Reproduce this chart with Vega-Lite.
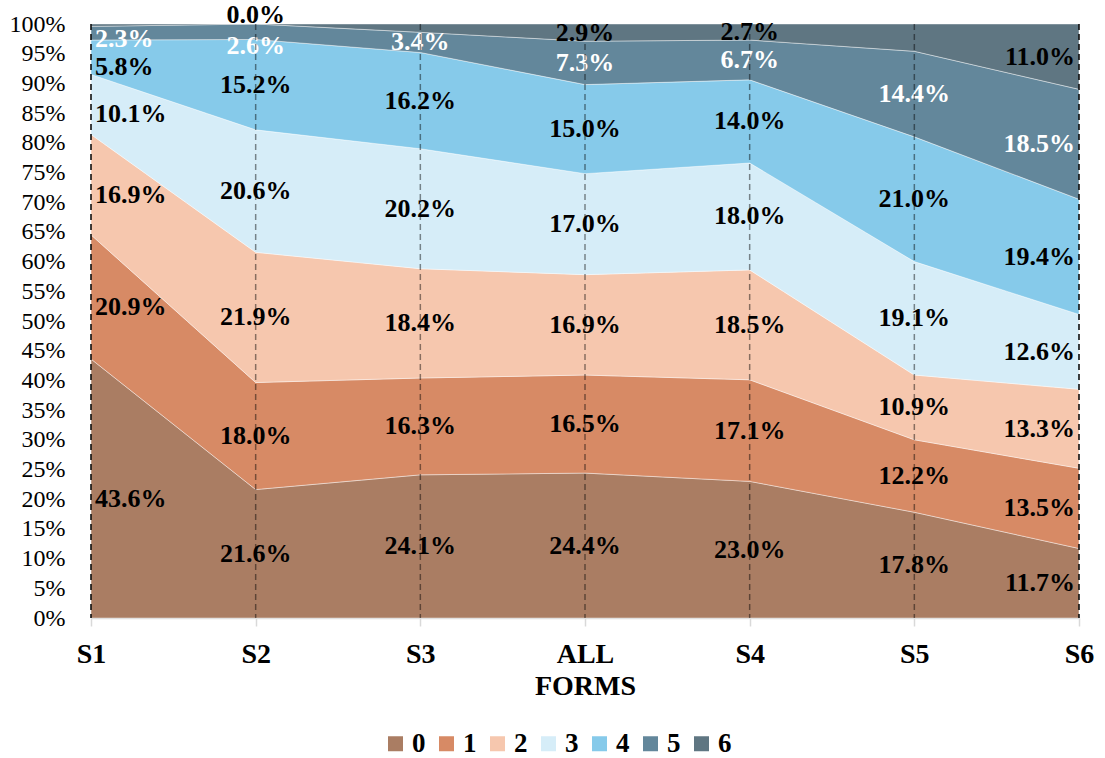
{
  "$schema": "https://vega.github.io/schema/vega-lite/v6.json",
  "width": 988,
  "height": 594,
  "autosize": "none",
  "padding": {"left": 91, "top": 24, "right": 26, "bottom": 140},
  "background": "white",
  "config": {
    "view": {"stroke": null},
    "font": "'Liberation Serif', 'Times New Roman', Times, serif",
    "legend": {"padding": 0},
    "axisY": {"labelOverlap": false, "tickCount": 30, "labelFontSize": 24, "labelColor": "black", "labelPadding": 26, "ticks": false, "domain": false, "gridColor": "#d9d9d9", "labelSeparation": 0}
  },
  "data": {
    "values": [
      {"form": "S1", "series": "0", "value": 43.6},
      {"form": "S1", "series": "1", "value": 20.9},
      {"form": "S1", "series": "2", "value": 16.9},
      {"form": "S1", "series": "3", "value": 10.1},
      {"form": "S1", "series": "4", "value": 5.8},
      {"form": "S1", "series": "5", "value": 2.3},
      {"form": "S1", "series": "6", "value": 0.4},
      {"form": "S2", "series": "0", "value": 21.6},
      {"form": "S2", "series": "1", "value": 18.0},
      {"form": "S2", "series": "2", "value": 21.9},
      {"form": "S2", "series": "3", "value": 20.6},
      {"form": "S2", "series": "4", "value": 15.2},
      {"form": "S2", "series": "5", "value": 2.6},
      {"form": "S2", "series": "6", "value": 0.0},
      {"form": "S3", "series": "0", "value": 24.1},
      {"form": "S3", "series": "1", "value": 16.3},
      {"form": "S3", "series": "2", "value": 18.4},
      {"form": "S3", "series": "3", "value": 20.2},
      {"form": "S3", "series": "4", "value": 16.2},
      {"form": "S3", "series": "5", "value": 3.4},
      {"form": "S3", "series": "6", "value": 1.4},
      {"form": "ALL", "series": "0", "value": 24.4},
      {"form": "ALL", "series": "1", "value": 16.5},
      {"form": "ALL", "series": "2", "value": 16.9},
      {"form": "ALL", "series": "3", "value": 17.0},
      {"form": "ALL", "series": "4", "value": 15.0},
      {"form": "ALL", "series": "5", "value": 7.3},
      {"form": "ALL", "series": "6", "value": 2.9},
      {"form": "S4", "series": "0", "value": 23.0},
      {"form": "S4", "series": "1", "value": 17.1},
      {"form": "S4", "series": "2", "value": 18.5},
      {"form": "S4", "series": "3", "value": 18.0},
      {"form": "S4", "series": "4", "value": 14.0},
      {"form": "S4", "series": "5", "value": 6.7},
      {"form": "S4", "series": "6", "value": 2.7},
      {"form": "S5", "series": "0", "value": 17.8},
      {"form": "S5", "series": "1", "value": 12.2},
      {"form": "S5", "series": "2", "value": 10.9},
      {"form": "S5", "series": "3", "value": 19.1},
      {"form": "S5", "series": "4", "value": 21.0},
      {"form": "S5", "series": "5", "value": 14.4},
      {"form": "S5", "series": "6", "value": 4.6},
      {"form": "S6", "series": "0", "value": 11.7},
      {"form": "S6", "series": "1", "value": 13.5},
      {"form": "S6", "series": "2", "value": 13.3},
      {"form": "S6", "series": "3", "value": 12.6},
      {"form": "S6", "series": "4", "value": 19.4},
      {"form": "S6", "series": "5", "value": 18.5},
      {"form": "S6", "series": "6", "value": 11.0}
    ]
  },
  "transform": [
    {"stack": "value", "groupby": ["form"], "sort": [{"field": "series", "order": "ascending"}], "offset": "normalize", "as": ["y0", "y1"]},
    {"calculate": "(datum.y0 + datum.y1) / 2", "as": "ymid"},
    {"calculate": "format(datum.value, '.1f') + '%'", "as": "label"}
  ],
  "encoding": {
    "x": {
      "field": "form",
      "type": "ordinal",
      "sort": ["S1", "S2", "S3", "ALL", "S4", "S5", "S6"],
      "scale": {"type": "point", "padding": 0},
      "axis": {
        "title": "FORMS",
        "labelAngle": 0,
        "labelFontSize": 28,
        "labelFontWeight": "bold",
        "labelColor": "black",
        "labelPadding": 14,
        "titleFontSize": 28,
        "titleFontWeight": "bold",
        "titleColor": "black",
        "titlePadding": 4,
        "domainColor": "#d9d9d9",
        "domainWidth": 1.5,
        "tickColor": "#d9d9d9",
        "tickWidth": 1.5,
        "tickSize": 8,
        "grid": false
      }
    }
  },
  "layer": [
    {
      "mark": {"type": "area", "stroke": "white", "strokeWidth": 0.6, "strokeOpacity": 0.7},
      "encoding": {
        "y": {
          "field": "y1",
          "type": "quantitative",
          "scale": {"domain": [0, 1], "nice": false},
          "axis": {
            "title": null,
            "format": ".0%",
            "values": [0, 0.05, 0.1, 0.15, 0.2, 0.25, 0.3, 0.35, 0.4, 0.45, 0.5, 0.55, 0.6, 0.65, 0.7, 0.75, 0.8, 0.85, 0.9, 0.95, 1],
            "tickCount": 30,
            "labelOverlap": false,
            "grid": true
          }
        },
        "y2": {"field": "y0"},
        "color": {
          "field": "series",
          "type": "nominal",
          "scale": {
            "domain": ["0", "1", "2", "3", "4", "5", "6"],
            "range": ["#aa7d63", "#d78a65", "#f6c7ae", "#d6edf8", "#86caea", "#63879b", "#5f7682"]
          },
          "legend": {
            "title": null,
            "orient": "none",
            "direction": "horizontal",
            "columns": 7,
            "legendX": 291,
            "legendY": 706,
            "symbolType": "square",
            "symbolSize": 225,
            "symbolStrokeWidth": 0,
            "labelFontSize": 27,
            "labelFontWeight": "bold",
            "labelColor": "black",
            "labelOffset": 3,
            "columnPadding": 7
          }
        }
      }
    },
    {
      "transform": [
        {"filter": "datum.form == 'S1' && datum.series != '6' && datum.series != '5'"}
      ],
      "mark": {"type": "text", "align": "left", "baseline": "middle", "dx": 4, "dy": 10, "fontSize": 26, "fontWeight": "bold", "color": "black"},
      "encoding": {
        "y": {"field": "ymid", "type": "quantitative", "axis": {"title": null, "format": ".0%", "values": [0, 0.05, 0.1, 0.15, 0.2, 0.25, 0.3, 0.35, 0.4, 0.45, 0.5, 0.55, 0.6, 0.65, 0.7, 0.75, 0.8, 0.85, 0.9, 0.95, 1], "tickCount": 30, "labelOverlap": false, "grid": true}},
        "text": {"field": "label"}
      }
    },
    {
      "transform": [
        {"filter": "datum.form == 'S1' && datum.series == '5'"}
      ],
      "mark": {"type": "text", "align": "left", "baseline": "middle", "dx": 4, "dy": 6, "fontSize": 26, "fontWeight": "bold", "color": "white"},
      "encoding": {
        "y": {"field": "ymid", "type": "quantitative", "axis": {"title": null, "format": ".0%", "values": [0, 0.05, 0.1, 0.15, 0.2, 0.25, 0.3, 0.35, 0.4, 0.45, 0.5, 0.55, 0.6, 0.65, 0.7, 0.75, 0.8, 0.85, 0.9, 0.95, 1], "tickCount": 30, "labelOverlap": false, "grid": true}},
        "text": {"field": "label"}
      }
    },
    {
      "transform": [
        {"filter": "!(datum.series == '6' && (datum.form == 'S3' || datum.form == 'S5'))"},
        {"filter": "datum.form != 'S1' && datum.form != 'S6'"},
        {"filter": "!(datum.form == 'S2' && (datum.series == '5' || datum.series == '6'))"}
      ],
      "mark": {"type": "text", "align": "center", "baseline": "middle", "fontSize": 26, "fontWeight": "bold"},
      "encoding": {
        "y": {"field": "ymid", "type": "quantitative", "axis": {"title": null, "format": ".0%", "values": [0, 0.05, 0.1, 0.15, 0.2, 0.25, 0.3, 0.35, 0.4, 0.45, 0.5, 0.55, 0.6, 0.65, 0.7, 0.75, 0.8, 0.85, 0.9, 0.95, 1], "tickCount": 30, "labelOverlap": false, "grid": true}},
        "text": {"field": "label"},
        "color": {"condition": {"test": "datum.series == '5'", "value": "white"}, "value": "black"}
      }
    },
    {
      "transform": [
        {"filter": "datum.form == 'S2' && datum.series == '6'"}
      ],
      "mark": {"type": "text", "align": "center", "baseline": "bottom", "dy": 4, "fontSize": 26, "fontWeight": "bold", "color": "black"},
      "encoding": {
        "y": {"field": "y1", "type": "quantitative", "axis": {"title": null, "format": ".0%", "values": [0, 0.05, 0.1, 0.15, 0.2, 0.25, 0.3, 0.35, 0.4, 0.45, 0.5, 0.55, 0.6, 0.65, 0.7, 0.75, 0.8, 0.85, 0.9, 0.95, 1], "tickCount": 30, "labelOverlap": false, "grid": true}},
        "text": {"field": "label"}
      }
    },
    {
      "transform": [
        {"filter": "datum.form == 'S2' && datum.series == '5'"}
      ],
      "mark": {"type": "text", "align": "center", "baseline": "top", "dy": 1, "fontSize": 26, "fontWeight": "bold", "color": "white"},
      "encoding": {
        "y": {"field": "ymid", "type": "quantitative", "axis": {"title": null, "format": ".0%", "values": [0, 0.05, 0.1, 0.15, 0.2, 0.25, 0.3, 0.35, 0.4, 0.45, 0.5, 0.55, 0.6, 0.65, 0.7, 0.75, 0.8, 0.85, 0.9, 0.95, 1], "tickCount": 30, "labelOverlap": false, "grid": true}},
        "text": {"field": "label"}
      }
    },
    {
      "transform": [
        {"filter": "datum.form == 'S6'"}
      ],
      "mark": {"type": "text", "align": "right", "baseline": "middle", "dx": -4, "fontSize": 26, "fontWeight": "bold"},
      "encoding": {
        "y": {"field": "ymid", "type": "quantitative", "axis": {"title": null, "format": ".0%", "values": [0, 0.05, 0.1, 0.15, 0.2, 0.25, 0.3, 0.35, 0.4, 0.45, 0.5, 0.55, 0.6, 0.65, 0.7, 0.75, 0.8, 0.85, 0.9, 0.95, 1], "tickCount": 30, "labelOverlap": false, "grid": true}},
        "text": {"field": "label"},
        "color": {"condition": {"test": "datum.series == '5'", "value": "white"}, "value": "black"}
      }
    },
    {
      "transform": [{"filter": "datum.series == '0'"}],
      "mark": {"type": "rule", "color": "black", "strokeWidth": 1.5, "strokeDash": [6, 4]},
      "encoding": {
        "strokeOpacity": {"condition": {"test": "datum.form == 'S1' || datum.form == 'S6'", "value": 1}, "value": 0.45}
      }
    }
  ]
}
